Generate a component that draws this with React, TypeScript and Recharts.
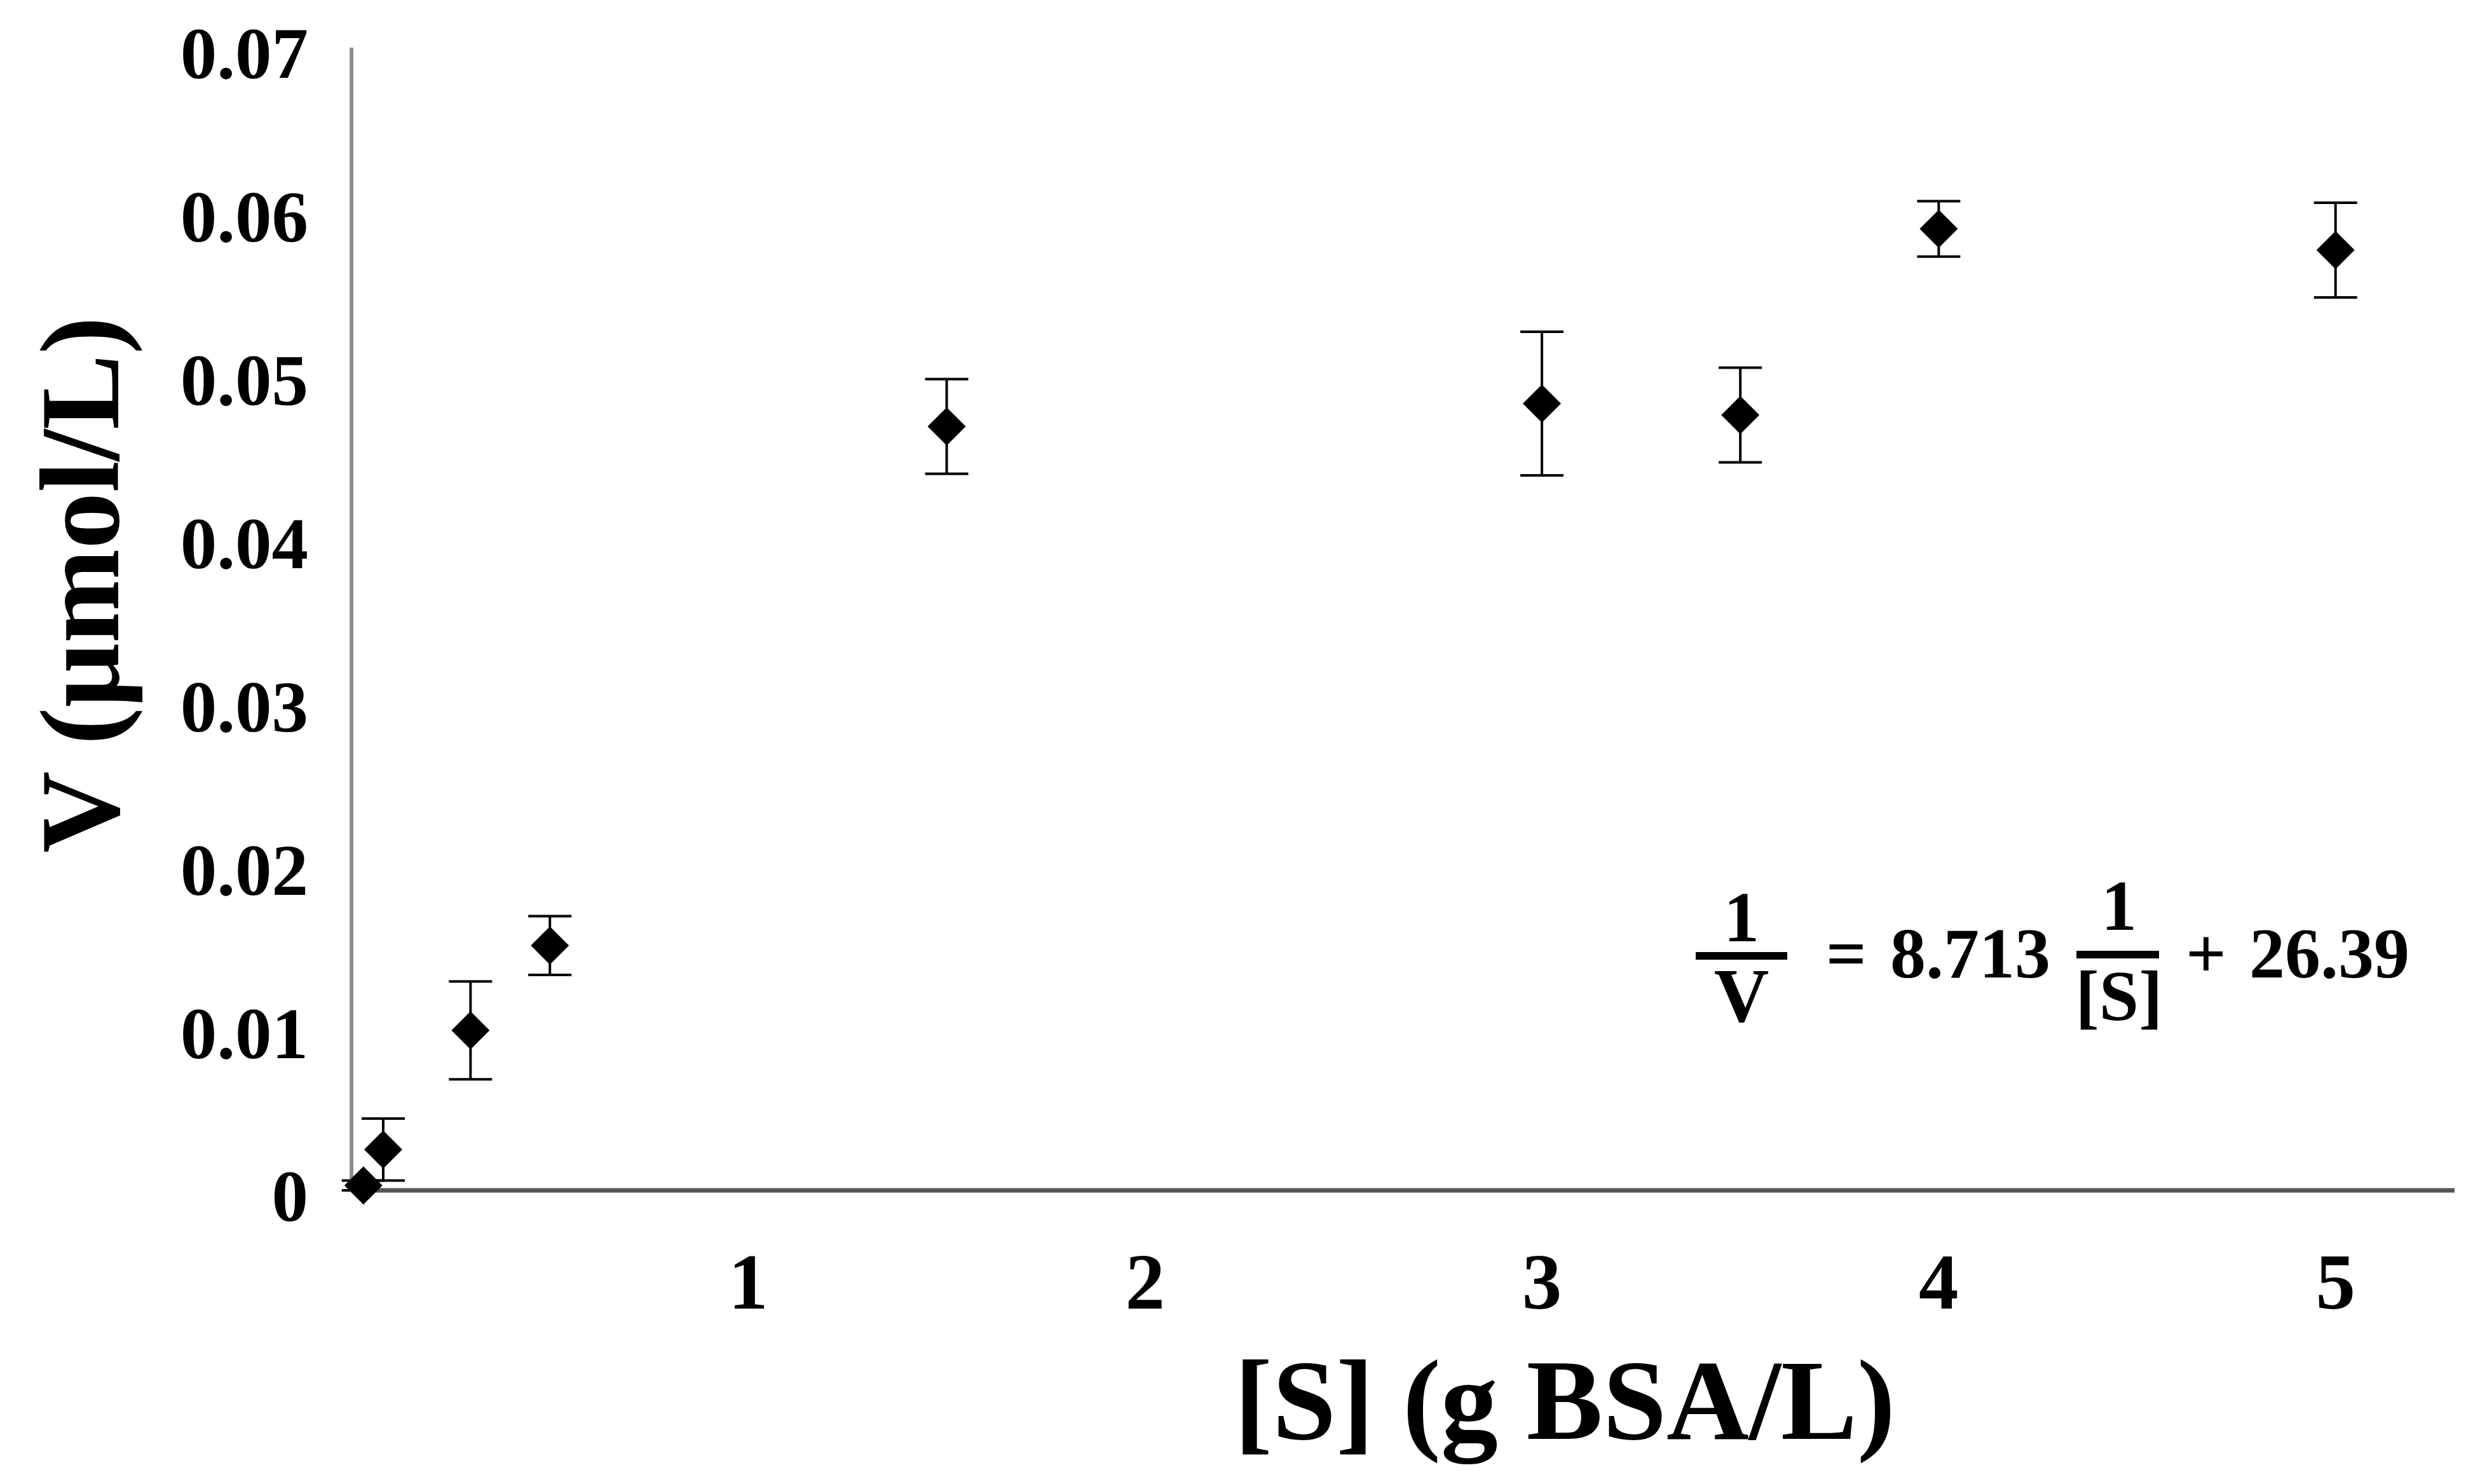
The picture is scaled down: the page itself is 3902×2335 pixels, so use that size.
import { ScatterChart, Scatter, XAxis, YAxis, ErrorBar } from 'recharts';

const sValues = [0.03, 0.08, 0.3, 0.5, 1.5, 3, 3.5, 4, 5];
const vValues = [0.0003, 0.0025, 0.0098, 0.015, 0.0468, 0.0482, 0.0475, 0.0589, 0.0576];
const vErrors = [0.0003, 0.0019, 0.003, 0.0018, 0.0029, 0.0044, 0.0029, 0.0017, 0.0029];
const xTicks = [1, 2, 3, 4, 5];
const yTicks = [0, 0.01, 0.02, 0.03, 0.04, 0.05, 0.06, 0.07];

const data = sValues.map((s, i) => ({ s, v: vValues[i], err: vErrors[i] }));

const FONT = '"Liberation Serif", "Times New Roman", serif';

const Diamond = (props: any) => {
  const { cx, cy } = props;
  const r = 30;
  return (
    <polygon
      points={`${cx},${cy - r} ${cx + r},${cy} ${cx},${cy + r} ${cx - r},${cy}`}
      fill="#000"
    />
  );
};

const YTick = ({ x, y, payload }: any) => (
  <text x={x - 60} y={y + 22} textAnchor="end" dominantBaseline="middle"
    fontFamily={FONT} fontWeight="bold" fontSize={115} fill="#000">
    {payload.value === 0 ? '0' : payload.value.toFixed(2)}
  </text>
);

const XTick = ({ x, y, payload }: any) => (
  <text x={x} y={y + 178} textAnchor="middle"
    fontFamily={FONT} fontWeight="bold" fontSize={125} fill="#000">
    {payload.value}
  </text>
);

export default function App() {
  return (
    <div style={{ position: 'absolute', left: 0, top: 0, width: 3902, height: 2335, background: '#fff' }}>
      <ScatterChart width={3902} height={2335} margin={{ top: 75, right: 40, bottom: 0, left: 0 }}>
        <XAxis type="number" dataKey="s" domain={[0, 5.3]} ticks={xTicks} height={462}
          axisLine={{ stroke: '#555', strokeWidth: 7 }} tickLine={false} tick={<XTick />} />
        <YAxis type="number" dataKey="v" domain={[0, 0.07]} ticks={yTicks} width={553}
          axisLine={{ stroke: '#8c8c8c', strokeWidth: 6 }} tickLine={false} tick={<YTick />} />
        <Scatter data={data} shape={<Diamond />} isAnimationActive={false}>
          <ErrorBar dataKey="err" direction="y" width={34} stroke="#000" strokeWidth={4} isAnimationActive={false} />
        </Scatter>
        <text x={186} y={920} transform="rotate(-90 186 920)" textAnchor="middle"
          fontFamily={FONT} fontWeight="bold" fontSize={178} fill="#000">
          V (μmol/L)
        </text>
        <text x={2462} y={2264} textAnchor="middle"
          fontFamily={FONT} fontWeight="bold" fontSize={180} fill="#000">
          [S] (g BSA/L)
        </text>
        <g fontFamily={FONT} fontWeight="bold" fontSize={112} fill="#000">
          <text x={2740} y={1481} textAnchor="middle">1</text>
          <rect x={2668} y={1498} width={144} height={12} />
          <text x={2740} y={1607} textAnchor="middle" fontSize={120}>V</text>
          <text x={2905} y={1538} textAnchor="middle">=</text>
          <text x={2974} y={1538}>8.713</text>
          <text x={3334} y={1463} textAnchor="middle">1</text>
          <rect x={3267} y={1496} width={130} height={12} />
          <text x={3334} y={1605} textAnchor="middle">[S]</text>
          <text x={3471} y={1538} textAnchor="middle">+</text>
          <text x={3539} y={1538}>26.39</text>
        </g>
      </ScatterChart>
    </div>
  );
}
